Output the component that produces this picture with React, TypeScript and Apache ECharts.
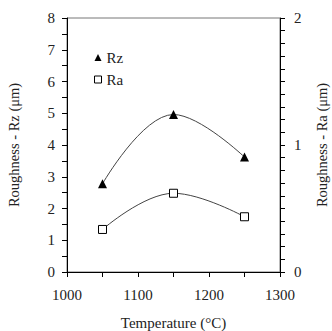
import React, { useEffect, useRef } from "react";
import * as echarts from "echarts";

const temperatures = [1050, 1150, 1250];
const rzValues = [2.78, 4.96, 3.62];
const raValues = [0.335, 0.62, 0.435];
const xTicks = [1000, 1100, 1200, 1300];

const FONT = "Times New Roman";

export default function App() {
  const ref = useRef<HTMLDivElement>(null);
  useEffect(() => {
    document.body.style.margin = "0";
    const chart = echarts.init(ref.current!, null, { renderer: "svg" });
    const labelStyle = { color: "#222", fontFamily: FONT, fontSize: 15 };
    const axisLine = { show: true, lineStyle: { color: "#000", width: 1 } };
    const axisTick = { show: true, inside: false, length: 5, lineStyle: { color: "#000" } };
    chart.setOption({
      animation: false,
      backgroundColor: "#fff",
      textStyle: { fontFamily: FONT, fontSize: 15 },
      grid: {
        left: 67,
        right: 52,
        top: 18,
        bottom: 59,
        containLabel: false,
        outerBoundsMode: "none",
        show: true,
        borderColor: "#777",
        borderWidth: 1,
        backgroundColor: "transparent",
      },
      legend: {
        orient: "vertical",
        left: 89,
        top: 45,
        itemWidth: 7,
        itemHeight: 7,
        itemGap: 7,
        textStyle: { ...labelStyle },
        data: [
          { name: "Rz", icon: "triangle", itemStyle: { color: "#000", borderWidth: 0 } },
          { name: "Ra", icon: "rect", itemStyle: { color: "#fff", borderColor: "#000", borderWidth: 1 } },
        ],
      },
      xAxis: {
        type: "value",
        min: 1000,
        max: 1300,
        interval: 100,
        axisLine,
        axisTick,
        splitLine: { show: false },
        minorTick: { show: true, splitNumber: 2, length: 5, lineStyle: { color: "#000" } },
        axisLabel: { ...labelStyle, margin: 15, formatter: (v: number) => (xTicks.includes(v) ? String(v) : "") },
        name: "Temperature (\u00B0C)",
        nameLocation: "middle",
        nameGap: 43,
        nameTextStyle: { ...labelStyle },
      },
      yAxis: [
        {
          type: "value",
          position: "left",
          min: 0,
          max: 8,
          interval: 1,
          axisLine,
          axisTick,
          splitLine: { show: false },
          minorTick: { show: true, splitNumber: 2, length: 5, lineStyle: { color: "#000" } },
          axisLabel: { ...labelStyle, margin: 12 },
          name: "Roughness - Rz (\u03BCm)",
          nameLocation: "middle",
          nameGap: 46,
          nameTextStyle: { ...labelStyle, fontSize: 14.5 },
        },
        {
          type: "value",
          position: "right",
          min: 0,
          max: 2,
          interval: 1,
          axisLine,
          axisTick,
          splitLine: { show: false },
          minorTick: { show: true, splitNumber: 10, length: 5, lineStyle: { color: "#000" } },
          axisLabel: { ...labelStyle, margin: 14 },
          name: "Roughness - Ra (\u03BCm)",
          nameLocation: "middle",
          nameGap: 34,
          nameTextStyle: { ...labelStyle, fontSize: 14.5 },
        },
      ],
      series: [
        {
          name: "Rz",
          type: "line",
          yAxisIndex: 0,
          data: temperatures.map((t, i) => [t, rzValues[i]]),
          smooth: 0.4,
          symbol: "triangle",
          symbolSize: 9,
          itemStyle: { color: "#000" },
          lineStyle: { color: "#444", width: 1 },
        },
        {
          name: "Ra",
          type: "line",
          yAxisIndex: 1,
          data: temperatures.map((t, i) => [t, raValues[i]]),
          smooth: 0.4,
          symbol: "rect",
          symbolSize: 8,
          itemStyle: { color: "#fff", borderColor: "#000", borderWidth: 1 },
          lineStyle: { color: "#444", width: 1 },
        },
      ],
    });
    return () => chart.dispose();
  }, []);
  return <div ref={ref} style={{ width: 332, height: 331 }} />;
}
